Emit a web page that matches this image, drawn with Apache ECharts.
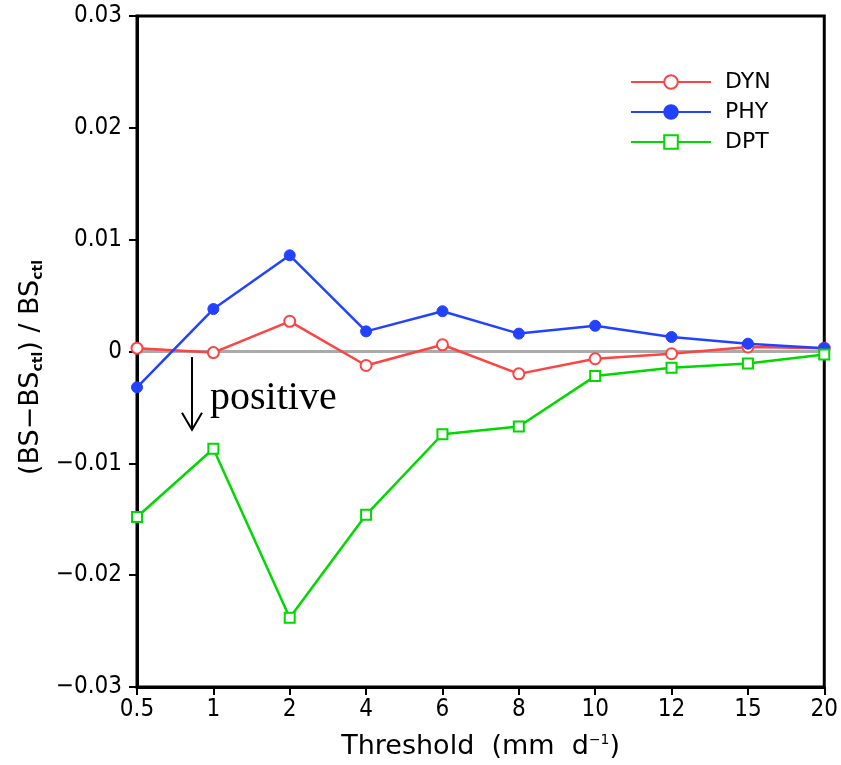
<!DOCTYPE html>
<html>
<head>
<meta charset="utf-8">
<script src="https://cdn.jsdelivr.net/npm/echarts@6/dist/echarts.min.js"></script>
<style>
  html, body { margin: 0; padding: 0; background: #fff; }
  #chart { width: 841px; height: 765px; }
</style>
</head>
<body>
<div id="chart"></div>
<script>
// Precipitation thresholds (mm/day)
const thresholds = ['0.5', '1', '2', '4', '6', '8', '10', '12', '15', '20'];

// Relative change of the bias score against the control run
const dyn = [0.0003, -0.0001, 0.0027, -0.00125, 0.0006, -0.002, -0.00065, -0.0002, 0.0004, 0.0003];
const phy = [-0.0032, 0.0038, 0.0086, 0.0018, 0.0036, 0.0016, 0.0023, 0.0013, 0.0007, 0.0003];
const dpt = [-0.0148, -0.0087, -0.0238, -0.0146, -0.0074, -0.0067, -0.0022, -0.00145, -0.00107, -0.00027];

const yTicks = { min: -0.03, max: 0.03, step: 0.01 };

const TICK_FONT = "'DejaVu Sans Condensed', 'Liberation Sans Narrow', 'DejaVu Sans', sans-serif";
const FONT = "'DejaVu Sans', 'Liberation Sans', sans-serif";
const RED = '#ff4242';
const BLUE = '#2342ff';
const GREEN = '#00d800';

const chart = echarts.init(document.getElementById('chart'), null, { renderer: 'canvas' });

function fmtY(v) {
  if (Math.abs(v) < 1e-9) return '0';
  return v.toFixed(2).replace('-', '\u2212');
}

const option = {
  backgroundColor: '#fff',
  animation: false,
  grid: {
    left: 137, right: 15, top: 16, bottom: 75,
    show: true, borderColor: '#000', borderWidth: 3, backgroundColor: 'transparent'
  },
  legend: {
    orient: 'vertical',
    left: 625, top: 66,
    itemWidth: 80, itemHeight: 17, itemGap: 8,
    textStyle: { fontFamily: FONT, fontSize: 22, color: '#000', padding: [0, 0, 0, 9] },
    data: ['DYN', 'PHY', 'DPT']
  },
  xAxis: {
    type: 'category',
    data: thresholds,
    boundaryGap: false,
    axisLine: { onZero: false, lineStyle: { color: '#000', width: 3 } },
    axisTick: { alignWithLabel: true, length: 8, lineStyle: { color: '#000', width: 2 } },
    axisLabel: { fontFamily: TICK_FONT, fontSize: 24, color: '#000', margin: 11 },
    splitLine: { show: false },
    name: 'Threshold  (mm  d{sup|\u22121})',
    nameLocation: 'middle',
    nameGap: 46,
    nameTextStyle: {
      fontFamily: FONT, fontSize: 27, color: '#000',
      rich: {
        sup: { fontFamily: FONT, fontSize: 14, color: '#000', verticalAlign: 'top', padding: [0, 0, 10, 0] }
      }
    }
  },
  yAxis: {
    type: 'value',
    min: yTicks.min, max: yTicks.max, interval: yTicks.step,
    axisLine: { show: true, onZero: false, lineStyle: { color: '#000', width: 3 } },
    axisTick: { show: true, length: 8, lineStyle: { color: '#000', width: 2 } },
    axisLabel: { fontFamily: TICK_FONT, fontSize: 24, color: '#000', margin: 15, formatter: fmtY },
    splitLine: { show: false },
    name: '(BS\u2212BS{sub|ctl}) / BS{sub|ctl}{gap|}',
    nameLocation: 'middle',
    nameRotate: 90,
    nameGap: 85,
    nameTextStyle: {
      fontFamily: FONT, fontSize: 27, color: '#000',
      rich: {
        sub: { fontFamily: FONT, fontSize: 14, fontWeight: 'bold', color: '#000', verticalAlign: 'bottom', padding: [12, 0, 0, 0] },
        gap: { width: 32 }
      }
    }
  },
  series: [
    {
      name: 'DYN', type: 'line', data: dyn, z: 3,
      symbol: 'circle', symbolSize: 11,
      lineStyle: { color: RED, width: 2.5 },
      itemStyle: { color: '#fff', borderColor: RED, borderWidth: 2 },
      markLine: {
        silent: true, symbol: 'none', label: { show: false }, z: 1,
        lineStyle: { color: '#aaaaaa', width: 3, type: 'solid' },
        data: [{ yAxis: 0 }]
      }
    },
    {
      name: 'PHY', type: 'line', data: phy, z: 4,
      symbol: 'circle', symbolSize: 11,
      lineStyle: { color: BLUE, width: 2.5 },
      itemStyle: { color: BLUE, borderColor: BLUE, borderWidth: 1 }
    },
    {
      name: 'DPT', type: 'line', data: dpt, z: 5,
      symbol: 'rect', symbolSize: 10,
      lineStyle: { color: GREEN, width: 2.5 },
      itemStyle: { color: '#fff', borderColor: GREEN, borderWidth: 2 }
    }
  ]
};

chart.setOption(option);

// Arrow and "positive" note below the zero line, between the first two thresholds
const p0 = chart.convertToPixel({ xAxisIndex: 0, yAxisIndex: 0 }, [0, -0.0005]);
const p1 = chart.convertToPixel({ xAxisIndex: 0, yAxisIndex: 0 }, [1, -0.007]);
const ax = p0[0] + (p1[0] - p0[0]) * 0.72;
const yTop = p0[1];
const yTip = p1[1];
const tY = chart.convertToPixel({ yAxisIndex: 0 }, -0.0042);

chart.setOption({
  graphic: [
    {
      type: 'line', z: 10,
      shape: { x1: ax, y1: yTop, x2: ax, y2: yTip },
      style: { stroke: '#000', lineWidth: 2 }
    },
    {
      type: 'polyline', z: 10,
      shape: { points: [[ax - 10, yTip - 17], [ax, yTip], [ax + 10, yTip - 17]] },
      style: { stroke: '#000', lineWidth: 2, fill: null }
    },
    {
      type: 'text', z: 10,
      x: ax + 18, y: tY,
      style: {
        text: 'positive',
        font: "40px 'Liberation Serif', 'Times New Roman', serif",
        fill: '#000',
        verticalAlign: 'middle',
        align: 'left'
      }
    }
  ]
});
</script>
</body>
</html>
